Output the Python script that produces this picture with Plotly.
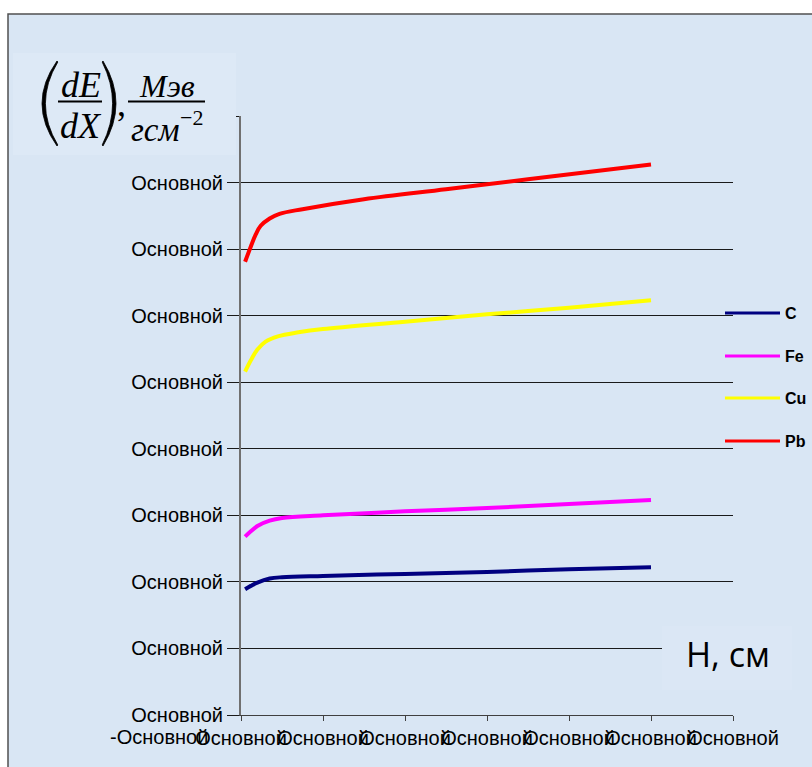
import plotly.graph_objects as go

# ---------------- data ----------------
series_names = ["C", "Fe", "Cu", "Pb"]
series_colors = ["#000080", "#ff00ff", "#ffff00", "#ff0000"]

x_c = [0.05, 0.12, 0.2, 0.35, 0.5, 1.0, 2.0, 3.0, 4.0, 5.0]
y_c = [1.89, 1.94, 1.99, 2.05, 2.07, 2.09, 2.12, 2.15, 2.19, 2.22]

x_fe = [0.05, 0.12, 0.2, 0.35, 0.5, 1.0, 2.0, 3.0, 4.0, 5.0]
y_fe = [2.68, 2.76, 2.84, 2.92, 2.96, 3.00, 3.06, 3.11, 3.17, 3.23]

x_cu = [0.05, 0.12, 0.2, 0.3, 0.45, 0.7, 1.0, 2.0, 3.0, 4.0, 5.0]
y_cu = [5.16, 5.33, 5.49, 5.61, 5.69, 5.75, 5.80, 5.91, 6.02, 6.12, 6.23]

x_pb = [0.05, 0.12, 0.18, 0.24, 0.35, 0.47, 0.75, 1.5, 2.5, 3.5, 5.0]
y_pb = [6.81, 7.04, 7.22, 7.35, 7.46, 7.53, 7.60, 7.75, 7.90, 8.05, 8.27]

x_tick_vals = [0, 1, 2, 3, 4, 5, 6]
x_tick_text = ["Основной"] * 7
x_first_label = "-Основной"
y_tick_vals = [0, 1, 2, 3, 4, 5, 6, 7, 8, 9]
y_tick_text = ["Основной"] * 9 + [""]

# ---------------- figure ----------------
W, H = 812, 767
L, T, R, B = 241, 116, 79, 52
PW, PH = W - L - R, H - T - B
BG = "#d9e6f4"


def px(xp):
    return (xp - L) / PW


def py(yp):
    return (H - B - yp) / PH


fig = go.Figure()
for xs, ys, name, col in zip([x_c, x_fe, x_cu, x_pb], [y_c, y_fe, y_cu, y_pb],
                             series_names, series_colors):
    fig.add_trace(go.Scatter(x=xs, y=ys, mode="lines", name=name,
                             line=dict(color=col, width=4, shape="spline", smoothing=1.0),
                             showlegend=False, hoverinfo="skip"))

shapes = []
annotations = []

# outer frame / background
shapes.append(dict(type="rect", xref="paper", yref="paper", layer="below",
                   x0=px(8), x1=px(830), y0=py(14), y1=py(790),
                   fillcolor=BG, line=dict(color="#505050", width=1.5)))

# manual legend
legend_y = [313, 356, 398, 441]
for name, col, ly in zip(series_names, series_colors, legend_y):
    shapes.append(dict(type="line", xref="paper", yref="paper", layer="above",
                       x0=px(725), x1=px(780), y0=py(ly), y1=py(ly),
                       line=dict(color=col, width=3)))
    annotations.append(dict(xref="paper", yref="paper", x=px(783), y=py(ly),
                            xanchor="left", yanchor="middle", showarrow=False,
                            text="<b>%s</b>" % name,
                            font=dict(family="Liberation Sans, Arial", size=16, color="black")))

# "-Основной" label one tick step left of the axis start
annotations.append(dict(xref="paper", yref="paper", x=-1 / 6, y=py(737), xanchor="center",
                        yanchor="middle", showarrow=False, text=x_first_label,
                        font=dict(family="Liberation Sans, Arial", size=20, color="black")))

# x-axis title box
shapes.append(dict(type="rect", xref="paper", yref="paper", layer="above",
                   x0=px(662), x1=px(792), y0=py(626), y1=py(690),
                   fillcolor="#dbe7f5", line=dict(width=0)))
annotations.append(dict(xref="paper", yref="paper", x=px(728), y=py(654),
                        xanchor="center", yanchor="middle", showarrow=False,
                        text="Н, см",
                        font=dict(family="Open Sans", size=34, color="black")))

# y-axis title (equation image)
shapes.append(dict(type="rect", xref="paper", yref="paper", layer="above",
                   x0=px(13), x1=px(236), y0=py(53), y1=py(155),
                   fillcolor="#dde9f6", line=dict(width=0)))
serif = "Liberation Serif, Times New Roman"


def paren(xt, xm, w):
    # filled crescent parenthesis; xt = x of tips, xm = x of outer middle
    y0, y1 = 61, 146
    ym = (y0 + y1) / 2
    co = 2 * xm - xt
    ci = 2 * (xm + w) - xt
    d = 0.8 if xm < xt else -0.8
    pts = "M %f,%f Q %f,%f %f,%f L %f,%f Q %f,%f %f,%f Z" % (
        px(xt), py(y0), px(co), py(ym), px(xt), py(y1),
        px(xt + d), py(y1 - 1), px(ci), py(ym), px(xt + d), py(y0 + 1))
    return dict(type="path", xref="paper", yref="paper", layer="above", path=pts,
                fillcolor="black", line=dict(color="black", width=0.8))


shapes.append(paren(57, 42, 3))
shapes.append(paren(103, 116, -3))
for (a, b_) in [(58, 102), (128, 205)]:
    shapes.append(dict(type="line", xref="paper", yref="paper", layer="above",
                       x0=px(a), x1=px(b_), y0=py(101.5), y1=py(101.5),
                       line=dict(color="black", width=1.8)))

eq_parts = [
    ("<i>dE</i>", 80.5, 85, 36),
    ("<i>dX</i>", 80.5, 126, 36),
    (",", 121, 104, 36),
    ("<i>Мэв</i>", 167, 86, 32),
    ("<i>гсм</i>", 155, 130, 33),
    ("−2", 191, 117, 22),
]
for txt, xx, yy, fs in eq_parts:
    annotations.append(dict(xref="paper", yref="paper", x=px(xx), y=py(yy),
                            xanchor="center", yanchor="middle", showarrow=False,
                            text=txt, font=dict(family=serif, size=fs, color="black")))

fig.update_layout(
    width=W, height=H, autosize=False,
    margin=dict(l=L, r=R, t=T, b=B, pad=0),
    paper_bgcolor="white", plot_bgcolor="rgba(0,0,0,0)",
    showlegend=False,
    shapes=shapes, annotations=annotations,
    xaxis=dict(range=[0, 6], tickvals=x_tick_vals, ticktext=x_tick_text,
               showgrid=False, zeroline=False, showline=True, linecolor="#404040",
               linewidth=1, ticks="outside", ticklen=5, tickcolor="#404040",
               tickangle=0, automargin=False,
               tickfont=dict(family="Liberation Sans, Arial", size=20, color="black"),
               fixedrange=True),
    yaxis=dict(range=[0, 9], tickvals=y_tick_vals, ticktext=y_tick_text,
               showgrid=True, gridcolor="#1a1a1a", gridwidth=1, zeroline=False,
               showline=True, linecolor="#707070", linewidth=2,
               ticks="outside", ticklen=12, tickcolor="#1a1a1a", automargin=False,
               tickfont=dict(family="Liberation Sans, Arial", size=20, color="black"),
               fixedrange=True),
)

fig.write_html("out.html", config={"displayModeBar": False},
               post_script="document.body.style.margin='0';document.body.style.overflow='hidden';")
